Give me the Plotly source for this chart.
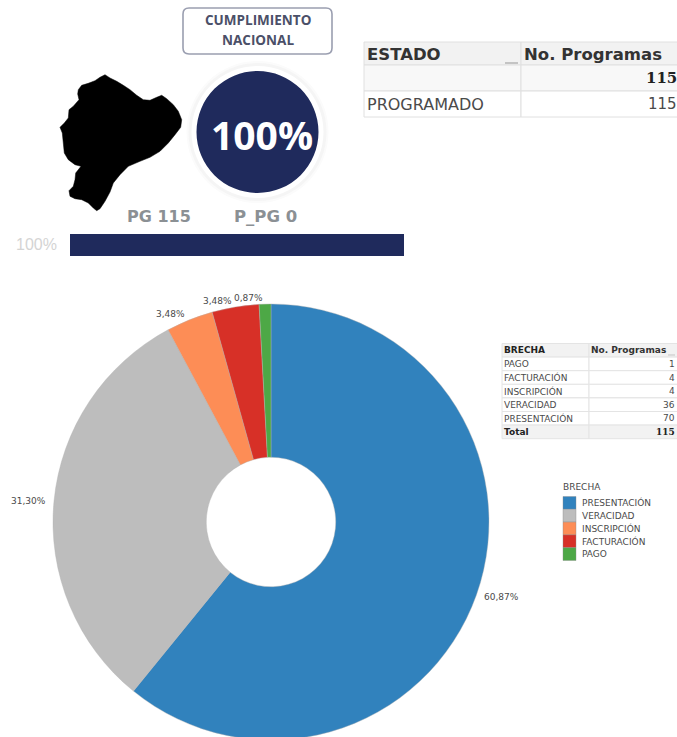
import math
import plotly.graph_objects as go

# ---- data ----
brecha_legend = ["PRESENTACIÓN", "VERACIDAD", "INSCRIPCIÓN", "FACTURACIÓN", "PAGO"]
brecha_values = [70, 36, 4, 4, 1]
brecha_colors = ["#3182BD", "#BDBDBD", "#FD8D56", "#D73027", "#4DA846"]

table_brecha = ["PAGO", "FACTURACIÓN", "INSCRIPCIÓN", "VERACIDAD", "PRESENTACIÓN"]
table_brecha_vals = [1, 4, 4, 36, 70]
total_programas = 115
estado_names = ["PROGRAMADO"]
estado_vals = [115]
cumplimiento = 100
pg_text = "PG 115"
ppg_text = "P_PG 0"

# silhouette of the country, a decoration
MAP_OUTLINE = [(70,65),(80,52),(100,46),(120,38),(135,28),(150,20),(165,30),(185,40),(205,52),(225,65),
               (245,82),(265,95),(285,97),(305,88),(320,82),(335,92),(355,110),(370,130),(380,155),
               (377,178),(360,200),(340,225),(315,250),(285,268),(255,280),(220,295),(195,320),(175,345),
               (165,372),(150,400),(135,422),(125,428),(115,420),(100,405),(80,395),(60,392),(45,385),
               (42,368),(55,355),(60,335),(62,315),(78,295),(60,290),(40,275),(28,255),(25,225),(22,195),
               (15,178),(28,165),(40,150),(42,125),(55,115),(72,95),(68,78)]

W, H = 677, 741   # the last pixels of the ring fall below the window
NAVY = "#1F2A5C"
TXT = "#4a4a4a"
SANS = "DejaVu Sans"
SERIF = "DejaVu Serif"

# pie placement
PIE_L, PIE_R, PIE_T, PIE_B = 53, 489, 304, 740
pcx, pcy, prad = (PIE_L + PIE_R) / 2, (PIE_T + PIE_B) / 2, (PIE_R - PIE_L) / 2

fig = go.Figure()

fig.add_trace(go.Pie(
    labels=brecha_legend, values=brecha_values, sort=False, direction="clockwise", rotation=0,
    hole=0.297, marker=dict(colors=brecha_colors, line=dict(color="#b0b0b0", width=0.4)),
    textinfo="none", showlegend=False, hoverinfo="label+value",
    domain=dict(x=[PIE_L/W, PIE_R/W], y=[(H-PIE_B)/H, (H-PIE_T)/H]),
))

fig.add_trace(go.Bar(x=[cumplimiento], y=[""], orientation="h", marker=dict(color=NAVY, line=dict(width=0)),
                     width=1, xaxis="x2", yaxis="y2", showlegend=False, hoverinfo="x"))

shapes = []
ann = []

def text(x, y, s, size, color, family=SANS, anchor="center"):
    # annotations carry about 2px of inner padding; shift so x is the ink edge
    shift = {"left": -2, "right": 2, "center": 0}[anchor]
    ann.append(dict(x=x, y=y, xshift=shift, text=s, xref="x", yref="y", showarrow=False,
                    xanchor=anchor, yanchor="middle", font=dict(family=family, size=size, color=color)))

def rect(x0, x1, y0, y1, fill, line="#e0e0e0", lw=1):
    shapes.append(dict(type="rect", x0=x0, x1=x1, y0=y0, y1=y1, fillcolor=fill,
                       line=dict(color=line, width=lw), xref="x", yref="y", layer="below"))

# map
pts = [(55 + x/3, 68 + y/3) for x, y in MAP_OUTLINE]
path = "M" + " L".join(f"{x:.1f},{y:.1f}" for x, y in pts) + " Z"
shapes.append(dict(type="path", path=path, fillcolor="#000000", line=dict(color="#000000", width=0.5), xref="x", yref="y"))

# rounded title box
x0, x1, y0, y1, r = 183, 332, 8, 54, 6
box = (f"M{x0+r},{y0} L{x1-r},{y0} Q{x1},{y0} {x1},{y0+r} L{x1},{y1-r} Q{x1},{y1} {x1-r},{y1} "
       f"L{x0+r},{y1} Q{x0},{y1} {x0},{y1-r} L{x0},{y0+r} Q{x0},{y0} {x0+r},{y0} Z")
shapes.append(dict(type="path", path=box, fillcolor="#ffffff", line=dict(color="#9a9eb0", width=1.6), xref="x", yref="y"))

# medallion
cx, cy = 257.5, 132
for rad, col in [(71, "#fbfbfb"), (69, "#f5f5f5"), (66, "#ffffff"), (61, NAVY)]:
    shapes.append(dict(type="circle", x0=cx-rad, x1=cx+rad, y0=cy-rad, y1=cy+rad,
                       fillcolor=col, line=dict(width=0), xref="x", yref="y"))

# legend
sw_top, sw_h = 496.5, 12.8
for i, c in enumerate(brecha_colors):
    shapes.append(dict(type="rect", x0=563, x1=576, y0=sw_top+i*sw_h, y1=sw_top+(i+1)*sw_h,
                       fillcolor=c, line=dict(color="#8a8a8a", width=0.4), xref="x", yref="y"))
text(563, 487, "BRECHA", 9, TXT, SANS, "left")
for i, name in enumerate(brecha_legend):
    text(582, sw_top+(i+0.5)*sw_h, name, 9, TXT, SANS, "left")

# state table
T_L, T_M, T_R = 364, 521, 678
t_rows = [(42, 65), (65, 91), (91, 117)]
for j, (a, b) in enumerate(t_rows):
    fill = "#f2f2f2" if j == 0 else ("#f8f8f8" if j == 1 else "#ffffff")
    rect(T_L, T_M, a, b, fill)
    rect(T_M, T_R, a, b, fill)
shapes.append(dict(type="line", x0=505, x1=518, y0=63, y1=63, line=dict(color="#b5b5b5", width=1.5), xref="x", yref="y"))
text(367, 54, "<b>ESTADO</b>", 16.5, "#333333", SANS, "left")
text(524, 54, "<b>No. Programas</b>", 16.5, "#333333", SANS, "left")
text(676.5, 78, f"<b>{total_programas}</b>", 15, "#222222", SERIF, "right")
text(367, 104, estado_names[0], 16, "#4a4a4a", SANS, "left")
text(676.5, 104, str(estado_vals[0]), 15, "#4a4a4a", SANS, "right")

# gap table
B_L, B_M, B_R = 502, 589, 678
b_top, b_pitch = 343.5, 13.6
b_rows = ["<b>BRECHA</b>"] + table_brecha + ["<b>Total</b>"]
b_vals = ["<b>No. Programas</b>"] + [str(v) for v in table_brecha_vals] + [f"<b>{total_programas}</b>"]
for j, (nm, val) in enumerate(zip(b_rows, b_vals)):
    a, b = b_top + j*b_pitch, b_top + (j+1)*b_pitch
    fill = "#f2f2f2" if j in (0, len(b_rows)-1) else "#ffffff"
    rect(B_L, B_M, a, b, fill, "#e4e4e4")
    rect(B_M, B_R, a, b, fill, "#e4e4e4")
    yc = (a + b) / 2
    text(504, yc, nm, 9, "#222222" if j in (0, len(b_rows)-1) else TXT, SANS, "left")
    if j == 0:
        text(591, yc, val, 9, "#333333", SANS, "left")
    elif j == len(b_rows) - 1:
        text(675, yc, val, 9, "#222222", SERIF, "right")
    else:
        text(675, yc, val, 9, TXT, SANS, "right")
shapes.append(dict(type="line", x0=668, x1=675, y0=355, y1=355, line=dict(color="#c5c5c5", width=1), xref="x", yref="y"))

# headline texts
text(258, 20, "<b>CUMPLIMIENTO</b>", 13.5, "#4b5068", "Open Sans")
text(258, 40, "<b>NACIONAL</b>", 13.5, "#4b5068", "Open Sans")
text(261.5, 134, f"<b>{cumplimiento}%</b>", 39, "#ffffff", "Open Sans")
text(158.5, 216, f"<b>{pg_text}</b>", 16, "#8b9094", SANS)
text(265.5, 216, f"<b>{ppg_text}</b>", 16.5, "#8b9094", SANS)
text(16, 244, f"{cumplimiento}%", 16, "#d4d4d4", "Liberation Sans", "left")

# slice labels: placed from each slice's mid angle
total = sum(brecha_values)
cum = 0
for v in brecha_values:
    th = 2 * math.pi * (cum + v / 2) / total
    cum += v
    s, c = math.sin(th), math.cos(th)
    px, py = pcx + prad * s, pcy - prad * c
    gap = 2 + 6 * abs(s)
    label = f"{v / total * 100:.2f}".replace(".", ",") + "%"
    text(px + (gap if s > 0 else -gap), py - 6.5 * c, label, 9, TXT, SANS, "left" if s > 0 else "right")

fig.update_layout(
    width=W, height=H, margin=dict(l=0, r=0, t=0, b=0), paper_bgcolor="#ffffff", plot_bgcolor="#ffffff",
    showlegend=False, shapes=shapes, annotations=ann,
    xaxis=dict(range=[0, W], domain=[0, 1], visible=False, fixedrange=True),
    yaxis=dict(range=[H, 0], domain=[0, 1], visible=False, fixedrange=True),
    xaxis2=dict(range=[0, cumplimiento], domain=[70/W, 404/W], visible=False, anchor="y2", fixedrange=True),
    yaxis2=dict(domain=[(H-256)/H, (H-234)/H], visible=False, anchor="x2", fixedrange=True),
)

fig.write_html("out.html", config=dict(displayModeBar=False),
               post_script=("document.documentElement.style.overflow='hidden';"
                            "document.body.style.margin='0';document.body.style.overflow='hidden';"
                            "document.documentElement.style.height='737px';document.body.style.height='737px';"
                            "var gd=document.querySelector('.plotly-graph-div');"
                            "gd.parentElement.style.height='737px';gd.parentElement.style.overflow='hidden';"))
